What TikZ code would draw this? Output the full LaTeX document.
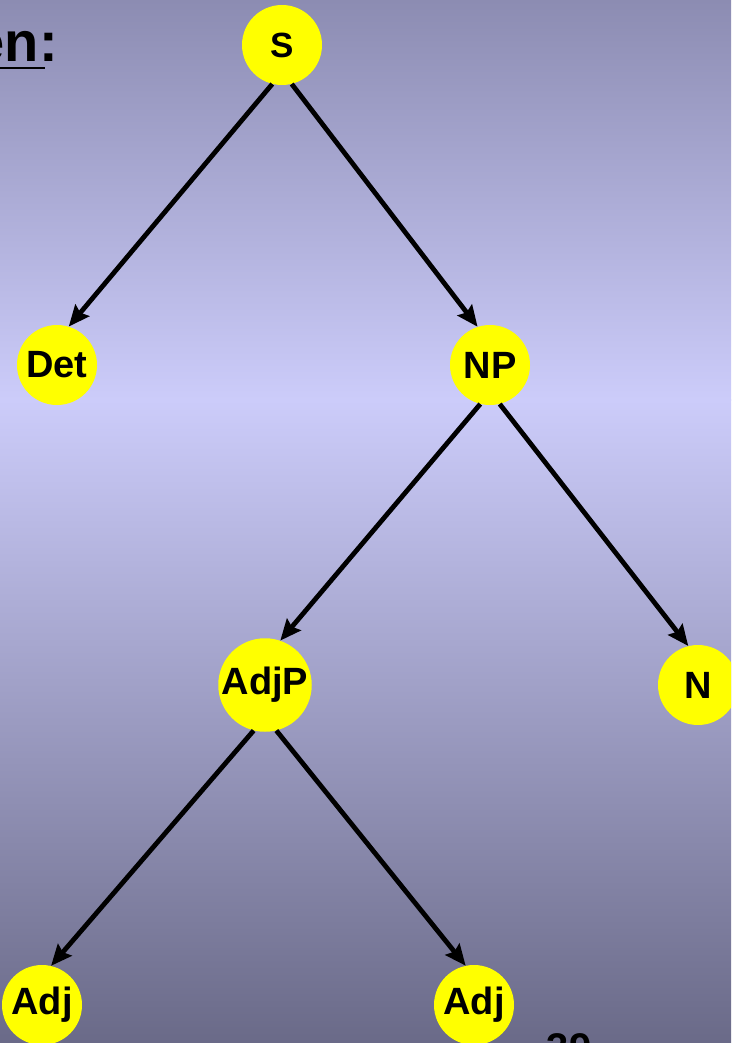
\documentclass[tikz,border=0pt]{standalone}
\usepackage{fontspec}
\setmainfont{Liberation Sans}
\usetikzlibrary{arrows.meta}
\definecolor{bgtop}{RGB}{140,140,178}
\definecolor{bgmid}{RGB}{204,204,250}
\definecolor{bgbot}{RGB}{106,106,136}
\definecolor{nodeyellow}{RGB}{255,255,0}
\tikzset{
  cat/.style={circle, fill=nodeyellow, minimum size=80pt, inner sep=0pt,
    font=\fontsize{38}{40}\selectfont\bfseries},
  edge/.style={line width=4.8pt, -{Stealth[length=21pt,width=18pt,inset=3pt]}}
}
\begin{document}
\begin{tikzpicture}[x=1pt,y=-1pt]
\useasboundingbox (0,0) rectangle (731,1043);
\clip (0,0) rectangle (731,1043);
\shade[top color=bgtop, bottom color=bgmid] (0,0) rectangle (731,400);
\shade[top color=bgmid, bottom color=bgbot] (0,399.5) rectangle (731,1043);
\node[anchor=base east, inner sep=0pt, font=\fontsize{56}{60}\selectfont\bfseries] (title) at (58,62) {en:};
\draw[line width=2.5pt] (title.base east) ++(-62,6) -- ++(49,0);
\node[cat, font=\fontsize{35}{38}\selectfont\bfseries] (S) at (282,45) {S};
\node[cat] (Det) at (57,365) {Det};
\node[cat] (NP) at (490,365) {NP};
\node[cat] (AdjP) at (265,685) {AdjP};
\node[cat] (N) at (698,685) {N};
\node[cat] (Adj1) at (42,1005) {Adj};
\node[cat] (Adj2) at (474,1005) {Adj};
\node[anchor=base, inner sep=0pt, font=\fontsize{40}{44}\selectfont\bfseries] (page) at (569,1061) {39};
\draw[edge] (S.256) -- (Det.73);
\draw[edge] (S.284) -- (NP.108);
\draw[edge] (NP.256) -- (AdjP.71);
\draw[edge] (NP.284) -- (N.104);
\draw[edge] (AdjP.256) -- (Adj1.77);
\draw[edge] (AdjP.284) -- (Adj2.102);
\end{tikzpicture}
\end{document}
